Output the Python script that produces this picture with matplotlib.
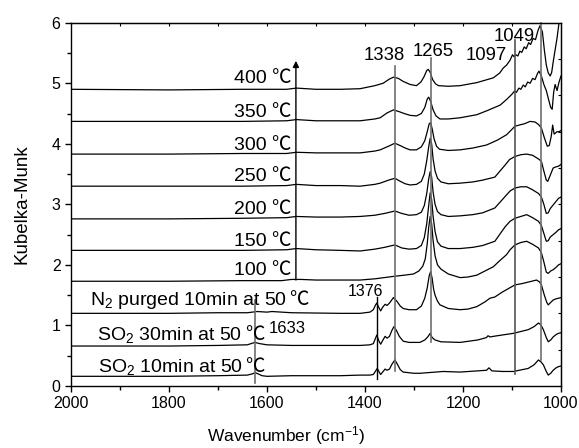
import numpy as np
import matplotlib
matplotlib.use('Agg')
import matplotlib.pyplot as plt
from matplotlib.ticker import MultipleLocator

plt.rcParams['font.family'] = ['Liberation Sans', 'Noto Sans CJK SC']
plt.rcParams['mathtext.default'] = 'regular'

# spectra: (wavenumber cm-1, Kubelka-Munk)
s400 = [(2000, 4.90), (1800, 4.89), (1650, 4.90), (1560, 4.90), (1540, 4.92), (1500, 4.90),
        (1450, 4.90), (1410, 4.91), (1380, 4.96), (1363, 5.00), (1350, 5.07), (1342, 5.10),
        (1332, 5.08), (1322, 5.03), (1308, 4.98), (1295, 4.96), (1286, 5.02), (1280, 5.10),
        (1274, 5.21), (1271, 5.23), (1267, 5.18), (1262, 5.06), (1256, 4.99), (1250, 4.96),
        (1230, 4.95), (1206, 4.96), (1186, 4.99), (1172, 5.01), (1155, 5.05), (1138, 5.09),
        (1125, 5.17), (1118, 5.25), (1111, 5.30), (1104, 5.38), (1099, 5.47), (1096, 5.44),
        (1092, 5.47), (1088, 5.45), (1084, 5.53), (1080, 5.51), (1075, 5.60), (1071, 5.57),
        (1066, 5.67), (1062, 5.64), (1057, 5.74), (1052, 5.72), (1047, 5.87), (1043, 5.95),
        (1038, 5.85), (1034, 5.55), (1030, 5.30), (1026, 5.17), (1022, 5.12), (1019, 5.18),
        (1016, 5.35), (1012, 5.55), (1008, 5.75), (1004, 6.00), (1000, 6.30)]
s350 = [(2000, 4.37), (1800, 4.37), (1650, 4.37), (1560, 4.38), (1540, 4.40), (1500, 4.38),
        (1450, 4.38), (1410, 4.38), (1380, 4.41), (1369, 4.43), (1355, 4.51), (1342, 4.56),
        (1330, 4.53), (1320, 4.50), (1308, 4.47), (1295, 4.46), (1285, 4.50), (1278, 4.60),
        (1273, 4.74), (1270, 4.77), (1266, 4.70), (1261, 4.56), (1255, 4.46), (1247, 4.41),
        (1230, 4.41), (1206, 4.43), (1172, 4.48), (1150, 4.55), (1124, 4.64), (1110, 4.74),
        (1100, 4.82), (1095, 4.87), (1091, 4.85), (1086, 4.92), (1082, 4.90), (1077, 4.97),
        (1073, 4.94), (1068, 5.02), (1063, 5.00), (1058, 5.08), (1053, 5.06), (1048, 5.16),
        (1045, 5.20), (1040, 5.12), (1035, 4.98), (1030, 4.88), (1025, 4.72), (1021, 4.60),
        (1018, 4.57), (1015, 4.85), (1012, 4.98), (1008, 4.88), (1004, 5.02), (1000, 5.12)]
s300 = [(2000, 3.83), (1800, 3.83), (1650, 3.84), (1560, 3.84), (1540, 3.86), (1500, 3.85),
        (1450, 3.85), (1410, 3.85), (1380, 3.88), (1369, 3.90), (1352, 3.96), (1339, 4.01),
        (1328, 3.97), (1318, 3.93), (1308, 3.90), (1295, 3.90), (1285, 3.95), (1278, 4.05),
        (1273, 4.20), (1269, 4.33), (1266, 4.35), (1263, 4.25), (1259, 4.08), (1254, 3.96),
        (1248, 3.91), (1230, 3.89), (1206, 3.90), (1180, 3.93), (1152, 3.98), (1130, 4.06),
        (1111, 4.15), (1100, 4.24), (1094, 4.29), (1085, 4.31), (1075, 4.33), (1063, 4.37),
        (1053, 4.36), (1046, 4.32), (1040, 4.26), (1034, 4.10), (1028, 3.96), (1024, 3.97),
        (1020, 4.12), (1017, 4.31), (1014, 4.16), (1008, 4.20), (1004, 4.20), (1000, 4.22)]
s250 = [(2000, 3.30), (1800, 3.30), (1650, 3.30), (1560, 3.31), (1540, 3.33), (1500, 3.31),
        (1450, 3.31), (1410, 3.30), (1380, 3.33), (1369, 3.35), (1352, 3.40), (1339, 3.43),
        (1328, 3.38), (1318, 3.34), (1308, 3.32), (1295, 3.33), (1285, 3.38), (1279, 3.50),
        (1274, 3.72), (1270, 3.95), (1267, 4.09), (1264, 4.00), (1261, 3.75), (1257, 3.55),
        (1252, 3.43), (1245, 3.37), (1230, 3.34), (1206, 3.35), (1180, 3.37), (1160, 3.40),
        (1135, 3.45), (1114, 3.65), (1105, 3.74), (1094, 3.79), (1082, 3.82), (1070, 3.83),
        (1058, 3.81), (1046, 3.75), (1040, 3.71), (1035, 3.55), (1030, 3.40), (1027, 3.38),
        (1022, 3.48), (1016, 3.60), (1010, 3.62), (1005, 3.63), (1000, 3.66)]
s200 = [(2000, 2.76), (1800, 2.76), (1650, 2.77), (1560, 2.78), (1540, 2.80), (1500, 2.79),
        (1450, 2.79), (1410, 2.80), (1380, 2.82), (1360, 2.85), (1339, 2.89), (1325, 2.85),
        (1310, 2.82), (1295, 2.83), (1285, 2.87), (1279, 2.98), (1274, 3.18), (1270, 3.42),
        (1267, 3.54), (1264, 3.45), (1261, 3.20), (1257, 3.00), (1252, 2.88), (1245, 2.83),
        (1230, 2.80), (1206, 2.81), (1180, 2.83), (1160, 2.86), (1135, 2.94), (1114, 3.13),
        (1104, 3.22), (1094, 3.27), (1082, 3.29), (1070, 3.29), (1058, 3.24), (1046, 3.18),
        (1040, 3.12), (1035, 3.00), (1030, 2.85), (1026, 2.86), (1022, 2.93), (1016, 2.99),
        (1010, 3.05), (1005, 3.10), (1000, 3.12)]
s150 = [(2000, 2.24), (1800, 2.24), (1650, 2.24), (1560, 2.25), (1540, 2.27), (1500, 2.25),
        (1450, 2.24), (1410, 2.23), (1380, 2.26), (1360, 2.29), (1339, 2.33), (1325, 2.28),
        (1310, 2.26), (1295, 2.27), (1285, 2.32), (1279, 2.45), (1274, 2.68), (1270, 2.98),
        (1267, 3.19), (1264, 3.08), (1261, 2.80), (1257, 2.55), (1252, 2.38), (1245, 2.31),
        (1230, 2.27), (1206, 2.27), (1180, 2.29), (1160, 2.32), (1135, 2.39), (1114, 2.63),
        (1104, 2.72), (1094, 2.77), (1082, 2.80), (1070, 2.83), (1058, 2.78), (1046, 2.72),
        (1040, 2.65), (1035, 2.52), (1030, 2.39), (1026, 2.40), (1022, 2.46), (1016, 2.50),
        (1010, 2.54), (1005, 2.58), (1000, 2.60)]
s100 = [(2000, 1.73), (1800, 1.73), (1650, 1.74), (1570, 1.74), (1550, 1.76), (1530, 1.76),
        (1500, 1.75), (1450, 1.75), (1410, 1.75), (1380, 1.77), (1342, 1.81), (1320, 1.83),
        (1301, 1.85), (1290, 1.90), (1282, 1.98), (1277, 2.10), (1273, 2.35), (1270, 2.62),
        (1267, 2.80), (1264, 2.68), (1261, 2.40), (1257, 2.15), (1252, 2.00), (1245, 1.93),
        (1230, 1.85), (1206, 1.79), (1190, 1.80), (1172, 1.83), (1155, 1.90), (1138, 1.97),
        (1125, 2.07), (1111, 2.17), (1104, 2.25), (1094, 2.33), (1082, 2.37), (1070, 2.39),
        (1058, 2.34), (1046, 2.28), (1040, 2.20), (1035, 2.05), (1030, 1.88), (1026, 1.86),
        (1021, 1.90), (1016, 1.92), (1010, 1.96), (1005, 2.00), (1000, 2.02)]
s_n2 = [(2000, 1.20), (1800, 1.20), (1700, 1.21), (1640, 1.21), (1620, 1.23), (1600, 1.22),
        (1590, 1.23), (1550, 1.21), (1450, 1.20), (1410, 1.20), (1390, 1.22), (1383, 1.26),
        (1379, 1.33), (1376, 1.37), (1372, 1.30), (1368, 1.24), (1364, 1.30), (1359, 1.35),
        (1355, 1.33), (1350, 1.37), (1342, 1.46), (1335, 1.40), (1328, 1.32), (1322, 1.28),
        (1310, 1.26), (1295, 1.26), (1285, 1.32), (1278, 1.45), (1273, 1.62), (1269, 1.82),
        (1266, 1.89), (1263, 1.78), (1260, 1.60), (1257, 1.50), (1252, 1.40), (1247, 1.34),
        (1230, 1.28), (1206, 1.26), (1190, 1.27), (1172, 1.31), (1155, 1.39), (1145, 1.45),
        (1135, 1.47), (1120, 1.55), (1107, 1.61), (1094, 1.67), (1080, 1.69), (1065, 1.72),
        (1050, 1.75), (1044, 1.72), (1040, 1.67), (1034, 1.50), (1029, 1.38), (1026, 1.34),
        (1021, 1.38), (1016, 1.42), (1010, 1.44), (1005, 1.45), (1000, 1.46)]
s_so2_30 = [(2000, 0.66), (1800, 0.66), (1700, 0.67), (1640, 0.68), (1625, 0.72), (1615, 0.70),
            (1600, 0.68), (1550, 0.67), (1450, 0.67), (1410, 0.67), (1390, 0.68), (1383, 0.70),
            (1379, 0.78), (1376, 0.84), (1372, 0.75), (1368, 0.69), (1364, 0.75), (1359, 0.82),
            (1355, 0.79), (1350, 0.82), (1345, 0.92), (1341, 0.98), (1336, 0.92), (1330, 0.82),
            (1322, 0.74), (1310, 0.72), (1288, 0.72), (1278, 0.76), (1272, 0.81), (1267, 0.87),
            (1263, 0.80), (1257, 0.76), (1245, 0.73), (1206, 0.72), (1170, 0.76), (1152, 0.80),
            (1149, 0.83), (1145, 0.81), (1138, 0.82), (1097, 0.87), (1067, 0.93), (1055, 0.98),
            (1046, 1.04), (1041, 1.01), (1036, 0.93), (1030, 0.80), (1026, 0.73), (1021, 0.76),
            (1016, 0.81), (1010, 0.85), (1005, 0.87), (1000, 0.88)]
s_so2_10 = [(2000, 0.16), (1800, 0.16), (1700, 0.17), (1640, 0.18), (1630, 0.20), (1624, 0.22),
            (1618, 0.20), (1610, 0.17), (1600, 0.16), (1550, 0.17), (1450, 0.17), (1410, 0.18),
            (1390, 0.18), (1383, 0.19), (1379, 0.24), (1375, 0.29), (1371, 0.23), (1368, 0.19),
            (1364, 0.23), (1359, 0.28), (1355, 0.26), (1350, 0.28), (1345, 0.36), (1339, 0.43),
            (1334, 0.36), (1328, 0.27), (1322, 0.23), (1300, 0.21), (1288, 0.21), (1240, 0.24),
            (1206, 0.23), (1170, 0.25), (1152, 0.26), (1147, 0.30), (1141, 0.25), (1120, 0.24),
            (1097, 0.24), (1067, 0.29), (1055, 0.35), (1046, 0.43), (1041, 0.40), (1036, 0.35),
            (1030, 0.24), (1026, 0.18), (1021, 0.21), (1016, 0.26), (1010, 0.30), (1005, 0.32),
            (1000, 0.33)]

spectra = [s400, s350, s300, s250, s200, s150, s100, s_n2, s_so2_30, s_so2_10]

temp_labels = ['400 ', '350 ', '300 ', '250 ', '200 ', '150 ', '100 ']
temp_label_y = [5.01, 4.44, 3.89, 3.38, 2.84, 2.31, 1.83]

# marker lines: position, lower end, upper end
mark_wn = [1625, 1376, 1339, 1266, 1093, 1041]
mark_lo = [0.05, 0.11, 0.24, 0.72, 0.20, 0.43]
mark_hi = [1.42, 1.47, 5.28, 5.42, 5.72, 6.00]
peak_labels = ['1633', '1376', '1338', '1265', '1097', '1049']

fig = plt.figure(figsize=(5.79, 4.48), dpi=100)
ax = fig.add_axes([71 / 579, 62 / 448, 490 / 579, 363.3 / 448])

for s in spectra:
    wn, km = zip(*s)
    ax.plot(wn, km, color='black', lw=0.9, clip_on=True)

mark_col = ['#6e6e6e', 'black', '#6e6e6e', '#6e6e6e', '#555555', '#6e6e6e']
mark_lw = [1.2, 1.0, 1.2, 1.2, 1.2, 1.2]
for w, lo, hi, c, lw in zip(mark_wn, mark_lo, mark_hi, mark_col, mark_lw):
    ax.plot([w, w], [lo, hi], color=c, lw=lw, clip_on=False)

# peak numbers
ax.text(1558, 0.88, peak_labels[0], fontsize=12, ha='center', va='baseline')
ax.text(1398, 1.49, peak_labels[1], fontsize=11.5, ha='center', va='baseline')
ax.text(1361, 5.38, peak_labels[2], fontsize=13.3, ha='center', va='baseline')
ax.text(1261, 5.45, peak_labels[3], fontsize=13.3, ha='center', va='baseline')
ax.text(1153, 5.39, peak_labels[4], fontsize=13.3, ha='center', va='baseline')
ax.text(1096, 5.70, peak_labels[5], fontsize=13.3, ha='center', va='baseline')

# temperature labels
for lab, y in zip(temp_labels, temp_label_y):
    ax.text(1550, y, lab + '\u2103', fontsize=14, ha='right', va='baseline')

ax.text(1961, 1.34, 'N$_2$ purged 10min at 50', fontsize=14, ha='left', va='baseline')
ax.text(1516, 1.34, '\u2103', fontsize=14, ha='right', va='baseline')
ax.text(1946, 0.76, 'SO$_2$ 30min at 50', fontsize=14, ha='left', va='baseline')
ax.text(1604, 0.76, '\u2103', fontsize=14, ha='right', va='baseline')
ax.text(1944, 0.23, 'SO$_2$ 10min at 50', fontsize=14, ha='left', va='baseline')
ax.text(1604, 0.23, '\u2103', fontsize=14, ha='right', va='baseline')

# heating arrow
ax.annotate('', xy=(1541, 5.37), xytext=(1541, 1.75),
            arrowprops=dict(arrowstyle='-|>', color='black', lw=1.0, mutation_scale=9,
                            shrinkA=0, shrinkB=0))

ax.set_xlim(2000, 1000)
ax.set_ylim(0, 6)
ax.xaxis.set_major_locator(MultipleLocator(200))
ax.xaxis.set_minor_locator(MultipleLocator(100))
ax.yaxis.set_major_locator(MultipleLocator(1))
ax.yaxis.set_minor_locator(MultipleLocator(0.5))
ax.tick_params(which='both', direction='out', width=1.0, labelsize=11.5)
ax.tick_params(which='major', length=4)
ax.tick_params(which='minor', length=3)
for sp in ax.spines.values():
    sp.set_linewidth(1.0)

top = ax.secondary_xaxis('top')
top.set_xticks(np.arange(1100, 2000, 100))
top.tick_params(direction='in', length=2.5, width=0.8, labeltop=False)
right = ax.secondary_yaxis('right')
right.set_yticks(np.arange(0.6, 5.5, 0.6))
right.tick_params(direction='in', length=2.5, width=0.8, labelright=False)

ax.set_ylabel('Kubelka-Munk', fontsize=13.5)
ax.yaxis.set_label_coords(-0.082, 0.5)
ax.set_xlabel('Wavenumber (cm$^{-1}$)', fontsize=12.5)
ax.xaxis.set_label_coords(0.439, -0.104)

fig.savefig('out.png', dpi=100)
